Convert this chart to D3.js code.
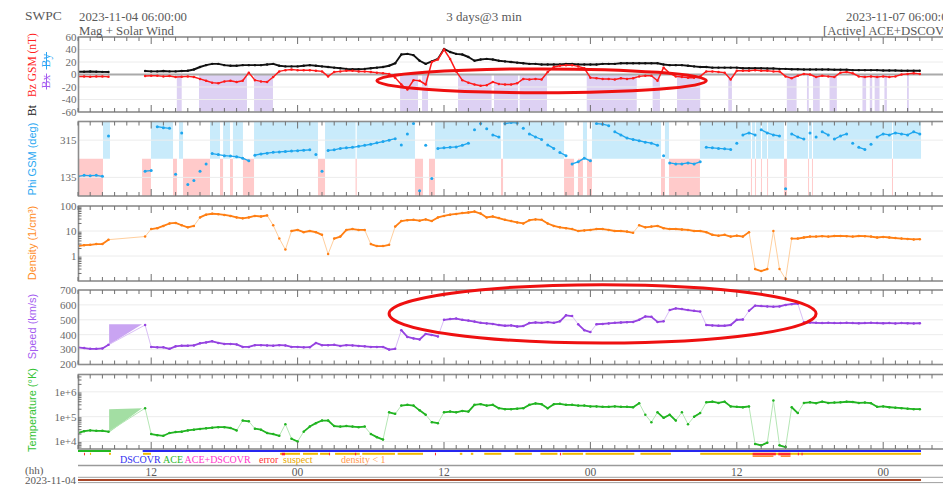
<!DOCTYPE html>
<html>
<head>
<meta charset="utf-8">
<script src="https://cdn.jsdelivr.net/npm/d3@7"></script>
<style>
  html, body { margin: 0; padding: 0; background: #fff; overflow: hidden; }
  svg { display: block; }
  text { font-family: "Liberation Serif", "Times New Roman", serif; }
  .sans { font-family: "Liberation Sans", Arial, sans-serif; }
</style>
</head>
<body>
<svg id="chart" width="943" height="487"></svg>
<script>
// ---------------------------------------------------------------
// Real-time solar wind, 3 days ending 2023-11-07 06:00 UT.
// Samples every 30 minutes from 2023-11-04 06:00 UT; null = no data.
// ---------------------------------------------------------------
const startLabel = "2023-11-04 06:00:00";
const endLabel = "2023-11-07 06:00:00";
const sampleStepHours = 0.5;

const bt = [4.5,4.5,4.8,4.5,4.2,4, null,null,null,null,null,
  5.5,5,5,5.5,5,5,5.5,6,8,12,
  15,17,17,15,14,14,15,15,15,15,
  16,17,14,13,13,13,14,15,14,13,
  12,11,10,9,8.5,8.5,9,10,11,12,
  14,18,32,33,31,22,17,21,25,41,
  36,33,32,28,22,24,25,24,22,21,
  20,19,18,17,17,16,16,16,16,17,
  17,16,16,16,16,17,17,17,18,18,
  18,18,18,18,18,16,15,15,15,14,
  13,12,12,11,11,11,11,11,10,10,
  10,10,9.5,9.5,9,9,8.5,8.5,8,8,
  8,8,8,7.5,7.5,7.5,7,7,7,7,
  7,6.5,6.5,6.5,6,6,6,6];

const bz = [-3,-3,-3.5,-3,-3,-3.5, null,null,null,null,null,
  -2.5,-2,-2,-3,-2.5,-4,-3.5,-3,-4,-7,
  -10,-13,-14,-11,-10,-12,-10,3,-9,-11,
  -12,-4,5,7,8,7,7,7,6,5,
  -3,4,5,6,6,5,5,4,3,2,
  1,-5,-16,-24,-9,-10,-16,20,24,40,
  25,5,-9,-13,-16,-18,-17,-12,-15,-16,
  -16,-14,-7,-8,-7,-8,4,12,14,15,
  15,13,10,-5,-6,-7,-7,-8,-6,-7,
  -6,-3,-2,-2,-10,11,2,-3,-4,-5,
  -5,-3,5,5,4,3,-8,6,6,6,
  7,6,6,5,5,-3,-6,-2,1,0,
  -4,-2,-3,-4,3,4,2,-3,-4,-3,
  -4,-3,-4,-3,0,1,2,1];

const phi = [140,145,143,145,140,335, null,null,null,null,null,
  165,168,380,375,372,150,350,100,120,165,
  200,250,245,240,238,235,228,215,242,248,
  252,256,258,260,262,264,266,268,245,165,
  265,268,275,278,280,285,290,295,302,308,
  315,322,292,345,395,70,290,130,275,278,
  280,282,290,300,365,395,370,340,330,395,
  400,398,372,345,330,318,292,275,255,240,
  200,210,228,215,395,392,385,355,340,325,
  318,312,305,300,290,240,205,200,200,205,
  200,210,280,278,275,273,270,300,340,350,
  340,365,350,340,335,80,345,330,320,350,
  330,355,340,320,335,345,300,280,270,295,
  330,345,340,350,345,340,355,345];

const density = [2.5,2.7,2.8,3,3,4.5, null,null,null,null,null,
  6,12,13,16,20,21,17,14,16,35,
  45,49,47,44,40,35,32,35,40,38,
  42,17,5,1.8,10,11,9,10,9,7,
  1.2,5,6,11,12,11,11,3,2.5,2.5,
  2.8,15,25,27,28,26,29,25,35,40,
  45,48,52,55,60,50,35,38,33,28,
  25,22,20,27,29,28,20,16,14,13,
  12,10,10.5,11,12,12,11,10,10,9.5,
  8.5,17,14,15,16,13,12,12,11.5,11,
  10,10,9,7,6.5,7,6,6.5,6,9,
  0.3,0.25,0.3,10,0.3,0.12,5,5,5.5,6,
  6,6.2,6,6.3,6.3,6.2,6,6.3,6.2,6,
  5.5,5.8,5.5,5.2,5,4.8,4.6,4.7];

const speed = [315,310,305,305,308,332, null,null,null,null,null,
  465,318,315,315,305,322,326,326,328,342,
  348,356,345,338,338,335,318,318,330,330,
  328,326,330,328,318,318,315,316,345,330,
  330,332,325,330,328,325,322,318,318,318,
  300,305,430,385,375,368,405,398,388,500,
  505,508,500,495,488,480,476,472,465,460,
  462,455,458,478,482,480,484,480,490,530,
  525,470,430,418,470,472,476,480,482,484,
  486,500,522,520,486,490,565,576,572,565,
  560,555,465,462,460,460,465,500,502,560,
  595,592,590,588,590,600,605,608,482,482,
  480,478,480,478,478,480,478,477,478,480,
  478,477,478,476,478,477,476,477];

const temperature = [2.2e4,2.6e4,2.8e4,2.7e4,2.7e4,2.5e4, null,null,null,null,null,
  2.2e5,2.0e4,1.8e4,1.7e4,2.2e4,2.4e4,2.5e4,2.8e4,3.0e4,3.2e4,
  3.4e4,3.6e4,3.8e4,3.8e4,3.5e4,2.8e4,7e4,6.5e4,3.3e4,3.0e4,
  2.2e4,2.0e4,1.7e4,5e4,1.3e4,1.0e4,2.5e4,4e4,5.5e4,7e4,
  7e4,4.2e4,4e4,4.2e4,4e4,3.8e4,4e4,2e4,1.5e4,1.2e4,
  1.5e5,1.3e5,2.8e5,3e5,2.8e5,1.8e5,1.2e5,6e4,5.5e4,1.5e5,
  1.6e5,1.5e5,1.7e5,1.6e5,3e5,3.2e5,2.8e5,3e5,2.2e5,2e5,
  2e5,2.1e5,2.2e5,3e5,3.4e5,3.2e5,2.2e5,3.2e5,3.3e5,3e5,
  3e5,2.8e5,2.8e5,2.6e5,2.6e5,2.5e5,2.5e5,2.6e5,2.5e5,2.5e5,
  2.4e5,3.5e5,1.2e5,6e4,1.5e5,9e4,1.2e5,7e4,1.5e5,5e4,
  1e5,1.4e5,3.8e5,4e5,3.6e5,4e5,2.6e5,2.5e5,2.4e5,2.6e5,
  8e3,7e3,9e3,4.5e5,7e3,6e3,2.4e5,1.4e5,3.6e5,3.8e5,
  3.5e5,4e5,3.6e5,3.7e5,3.8e5,4e5,3.9e5,3.6e5,3.7e5,3.5e5,
  2.5e5,2.6e5,2.4e5,2.3e5,2.2e5,2.1e5,2e5,2e5];

// envelope across the plasma data gap: [hour, low, high]
const speedGapBand = [[2.55, 332, 470], [5.25, 470, 470]];
const temperatureGapBand = [[2.55, 2.3e4, 2.0e5], [5.25, 2.2e5, 2.2e5]];

// southward Bz intervals, hours from start
const bzSouthSpans = [[8.1,8.5],[9.92,13.85],[14.43,15.98],[26.4,27.87],[28.2,28.69],
  [31.15,33.9],[34.1,36.07],[36.2,38.44],[41.7,45.8],[47.1,47.7],[49.1,51],[53.3,53.6],
  [58.1,58.9],[59.75,59.9],[60.25,60.8],[61.6,62.2],[64.3,64.6],[64.9,65.1],
  [65.3,65.7],[66.1,66.3],[67.95,68.1]];

// Phi sector intervals: away (upper half) and toward (lower half)
const phiAwaySpans = [[2.05,2.62],[5.98,7.79],[8.28,8.61],[10.82,11.64],[11.89,12.46],
  [12.7,13.52],[14.43,19.67],[20.25,22.75],[22.85,27.62],[29.26,34.67],[34.84,39.84],
  [41.39,41.72],[42.13,47.79],[48.11,48.44],[50.98,55.16],[55.25,55.5],[55.57,55.98],
  [56.07,56.48],[56.56,57.87],[58.11,59.84],[59.92,60.16],[60.25,66.72],[66.8,69.1]];
const phiTowardSpans = [[0,2.05],[5.25,5.98],[7.79,8.11],[8.61,10.82],[11.64,11.89],
  [12.46,12.7],[13.52,14.43],[19.67,20.25],[22.75,22.85],[27.62,28.28],[28.77,29.26],
  [34.67,34.84],[39.84,40.66],[40.98,41.39],[41.72,42.13],[47.79,48.11],[48.44,50.98],
  [55.16,55.24],[55.49,55.57],[55.98,56.06],[56.48,56.56],[57.87,58.11],[59.84,59.92],
  [60.16,60.24],[66.72,66.8]];

// data-source and quality flags, hours from start
const aceSpans = [[0, 2.7]];
const dscovrSpans = [[5.3, 69.1]];
const suspectSpans = [[0.98,1.07],[2.54,2.7],[5.33,5.98],[16.56,18.2],[18.44,19.67],
  [19.84,20.66],[21.07,23.1],[23.3,25.98],[26.2,28.28],[31.3,31.5],[32.2,32.4],
  [33.3,34.7],[35.8,37.2],[37.9,39.3],[39.7,41.4],[41.6,45.6],[46.1,48.6],[51,69.1]];
const errorSpans = [[0.49,0.57],[16.7,16.97],[20.57,20.66],[22.7,22.8],[29.26,29.34],
  [39.5,39.6],[55.3,57.2],[57.4,58.4],[59,59.1],[59.3,59.4]];
const lowDensitySpans = [[55.3,57.0],[57.6,58.4]];
const dataEndHour = 69.1;

// tick values per panel
const bTicks = [60, 40, 20, 0, -20, -40, -60];
const phiTicks = [315, 135];
const densityTicks = [100, 10, 1];
const speedTicks = [700, 600, 500, 400, 300, 200];
const temperatureTicks = [1e6, 1e5, 1e4];

// circled regions of interest: centre (hour, value) and half extents
const highlightMarks = [
  { panel: "mag", hour: 38, value: -10, halfHours: 13.5, halfValue: 19 },
  { panel: "speed", hour: 43, value: 540, halfHours: 17.5, halfValue: 196 }
];

// ---------------------------------------------------------------
const svg = d3.select("#chart");
const HOUR = 3600e3;
const t0 = new Date(Date.UTC(2023, 10, 4, 6));
const t1 = new Date(Date.UTC(2023, 10, 7, 6));
const at = h => new Date(t0.getTime() + h * HOUR);
const x = d3.scaleUtc().domain([t0, t1]).range([78, 956.4]);
const X0 = x(t0), X1 = x(t1);

const rows = bt.map((_, i) => ({
  t: at(i * sampleStepHours),
  bt: bt[i], bz: bz[i], phi: phi[i], n: density[i], v: speed[i], temp: temperature[i]
}));

const boxes = {
  mag:   [37, 112],
  phi:   [121.5, 196],
  dens:  [206, 281],
  speed: [290, 364.5],
  temp:  [374.5, 449]
};
const yB = d3.scaleLinear().domain([-60, 60]).range([boxes.mag[1], boxes.mag[0]]);
const yP = d3.scaleLinear().domain([45, 405]).range([boxes.phi[1], boxes.phi[0]]);
const yN = d3.scaleLog().domain([0.1, 100]).range([boxes.dens[1], boxes.dens[0]]);
const yV = d3.scaleLinear().domain([200, 700]).range([boxes.speed[1], boxes.speed[0]]);
const yT = d3.scaleLog().domain([5e3, 5e6]).range([boxes.temp[1], boxes.temp[0]]);

const defs = svg.append("defs");
Object.entries(boxes).forEach(([k, b]) => {
  defs.append("clipPath").attr("id", "clip-" + k)
    .append("rect").attr("x", X0).attr("y", b[0]).attr("width", X1 - X0).attr("height", b[1] - b[0]);
});
const layer = k => svg.append("g").attr("clip-path", `url(#clip-${k})`);

function spans(g, list, y0, y1, color) {
  g.selectAll(null).data(list).join("rect")
    .attr("x", d => x(at(d[0])))
    .attr("width", d => Math.max(1, x(at(d[1])) - x(at(d[0]))))
    .attr("y", Math.min(y0, y1)).attr("height", Math.abs(y1 - y0))
    .attr("fill", color);
}
function grid(g, ticks, y) {
  g.selectAll(null).data(ticks).join("line")
    .attr("x1", X0).attr("x2", X1).attr("y1", d => y(d)).attr("y2", d => y(d))
    .attr("stroke", "#ececec").attr("stroke-width", 1);
}
function dots(g, key, y, color, r) {
  g.selectAll(null).data(rows.filter(d => d[key] != null)).join("circle")
    .attr("cx", d => x(d.t)).attr("cy", d => y(d[key])).attr("r", r).attr("fill", color);
}
function solidTrace(g, key, y, color, width) {
  g.append("path").datum(rows)
    .attr("d", d3.line().defined(d => d[key] != null).x(d => x(d.t)).y(d => y(d[key])))
    .attr("fill", "none").attr("stroke", color).attr("stroke-width", width)
    .attr("stroke-linejoin", "round");
}
// short strokes between neighbouring samples whose step stays small
function steadySegments(g, key, y, color, width, maxStep) {
  const segs = [];
  for (let i = 1; i < rows.length; i++) {
    const a = rows[i - 1], b = rows[i];
    if (a[key] == null || b[key] == null) continue;
    if (Math.abs(y(a[key]) - y(b[key])) <= maxStep) segs.push([a, b]);
  }
  g.selectAll(null).data(segs).join("line")
    .attr("x1", d => x(d[0].t)).attr("y1", d => y(d[0][key]))
    .attr("x2", d => x(d[1].t)).attr("y2", d => y(d[1][key]))
    .attr("stroke", color).attr("stroke-width", width).attr("stroke-linecap", "round");
}
// plasma traces: faint connector through every sample, solid strokes for small steps
function plasmaTrace(g, key, y, dark, light, maxStep) {
  const valid = rows.filter(d => d[key] != null);
  g.append("path").datum(valid)
    .attr("d", d3.line().x(d => x(d.t)).y(d => y(d[key])))
    .attr("fill", "none").attr("stroke", light).attr("stroke-width", 1);
  steadySegments(g, key, y, dark, 1.8, maxStep);
  dots(g, key, y, dark, 1.25);
}
function gapBand(g, band, y, fill) {
  g.append("path").datum(band)
    .attr("d", d3.area().x(d => x(at(d[0]))).y0(d => y(d[1])).y1(d => y(d[2])))
    .attr("fill", fill);
}

// ---- magnetic field panel ----
{
  const g = layer("mag");
  spans(g, bzSouthSpans, yB(0), yB(-60), "#ddd1f3");
  grid(g, bTicks.filter(v => v !== 0), yB);
  g.append("line").attr("x1", X0).attr("x2", X1).attr("y1", yB(0)).attr("y2", yB(0))
    .attr("stroke", "#aaaaaa").attr("stroke-width", 2);
  solidTrace(g, "bt", yB, "#111", 1.9);
  dots(g, "bt", yB, "#111", 1.2);
  solidTrace(g, "bz", yB, "#ff1a1a", 1.5);
  dots(g, "bz", yB, "#ff1a1a", 1.25);
}
// ---- phi panel ----
{
  const g = layer("phi");
  spans(g, phiAwaySpans, yP(405), yP(225), "#c9ebfb");
  spans(g, phiTowardSpans, yP(225), yP(45), "#ffcaca");
  grid(g, phiTicks, yP);
  steadySegments(g, "phi", yP, "#1ea6ee", 1.3, 4);
  dots(g, "phi", yP, "#1ea6ee", 1.5);
}
// ---- density panel ----
{
  const g = layer("dens");
  grid(g, densityTicks, yN);
  plasmaTrace(g, "n", yN, "#ff7f14", "#ffcf9e", 7);
}
// ---- speed panel ----
{
  const g = layer("speed");
  grid(g, speedTicks, yV);
  gapBand(g, speedGapBand, yV, "#c9a4f2");
  plasmaTrace(g, "v", yV, "#9543e0", "#d9bff5", 7);
}
// ---- temperature panel ----
{
  const g = layer("temp");
  grid(g, temperatureTicks, yT);
  gapBand(g, temperatureGapBand, yT, "#a3dea3");
  plasmaTrace(g, "temp", yT, "#22b422", "#b5e6b5", 7);
}

// ---- frames, time ticks and value labels ----
const hours = d3.utcHour.range(t0, d3.utcHour.offset(t1, 1));
const isMajor = d => d.getUTCHours() % 12 === 0;
const panelAxes = [
  { box: boxes.mag, y: yB, ticks: bTicks, fmt: d => d },
  { box: boxes.phi, y: yP, ticks: phiTicks, fmt: d => d },
  { box: boxes.dens, y: yN, ticks: densityTicks, fmt: d => d, log: true },
  { box: boxes.speed, y: yV, ticks: speedTicks, fmt: d => d },
  { box: boxes.temp, y: yT, ticks: temperatureTicks, fmt: d => "1e+" + Math.round(Math.log10(d)), log: true }
];
const axisG = svg.append("g");
panelAxes.forEach(p => {
  const [top, bot] = p.box;
  axisG.append("rect").attr("x", X0 + 0.5).attr("y", top).attr("width", X1 - X0).attr("height", bot - top)
    .attr("fill", "none").attr("stroke", "#8d8d8d").attr("stroke-width", 1.6);
  axisG.selectAll(null).data(hours).join("line")
    .attr("x1", d => x(d)).attr("x2", d => x(d))
    .attr("y1", top).attr("y2", d => top + (isMajor(d) ? 7 : 4))
    .attr("stroke", "#707070").attr("stroke-width", 1);
  axisG.selectAll(null).data(hours).join("line")
    .attr("x1", d => x(d)).attr("x2", d => x(d))
    .attr("y1", bot).attr("y2", d => bot - (isMajor(d) ? 7 : 4))
    .attr("stroke", "#707070").attr("stroke-width", 1);
  axisG.selectAll(null).data(p.ticks).join("text")
    .attr("x", 76.5).attr("y", d => p.y(d)).attr("dy", "0.35em")
    .attr("text-anchor", "end").attr("font-size", 11).attr("fill", "#6a6a6a")
    .text(p.fmt);
  if (p.log) {
    const [lo, hi] = p.y.domain();
    const minor = [];
    for (let e = Math.floor(Math.log10(lo)); e <= Math.ceil(Math.log10(hi)); e++) {
      for (let m = 2; m <= 9; m++) {
        const v = m * Math.pow(10, e);
        if (v > lo && v < hi) minor.push(v);
      }
    }
    axisG.selectAll(null).data(minor).join("line")
      .attr("x1", X0).attr("x2", X0 + 3.5).attr("y1", d => p.y(d)).attr("y2", d => p.y(d))
      .attr("stroke", "#707070").attr("stroke-width", 1);
  }
});

// ---- axis titles ----
function vtitle(cx, cy, parts, size, cls) {
  const t = svg.append("text").attr("transform", `translate(${cx},${cy}) rotate(-90)`)
    .attr("text-anchor", "middle").attr("font-size", size);
  if (cls) t.attr("class", cls);
  parts.forEach(([s, c]) => t.append("tspan").attr("fill", c).text(s));
  return t;
}
vtitle(36, 65, [["Bz GSM (nT)", "#ff2020"]], 11.5);
vtitle(36, 110.5, [["Bt", "#111"]], 11.5);
vtitle(50, 60.5, [["By", "#2aa5f5"]], 11.5);
vtitle(50, 81.5, [["Bx", "#a35cf0"]], 11.5);
// struck-through legend entries (hidden components)
svg.append("line").attr("x1", 46.5).attr("x2", 46.5).attr("y1", 52).attr("y2", 69.5)
  .attr("stroke", "#2aa5f5").attr("stroke-width", 1);
svg.append("line").attr("x1", 46.5).attr("x2", 46.5).attr("y1", 73.5).attr("y2", 89.5)
  .attr("stroke", "#a35cf0").attr("stroke-width", 1);
vtitle(36, 159, [["Phi GSM (deg)", "#2aa8f2"]], 11, "sans");
vtitle(36, 243, [["Density (1/cm³)", "#ff8c1f"]], 11, "sans");
vtitle(36, 326.5, [["Speed (km/s)", "#a45cf0"]], 11, "sans");
vtitle(36, 410, [["Temperature (°K)", "#33c233"]], 11, "sans");

// ---- header ----
const hdr = (tx, ty, s, size, anchor) => svg.append("text").attr("x", tx).attr("y", ty)
  .attr("font-size", size).attr("fill", "#5a5a5a").attr("text-anchor", anchor || "start").text(s);
hdr(25, 19.5, "SWPC", 13.5);
hdr(79, 21, startLabel, 12.8);
hdr(79, 34.5, "Mag + Solar Wind", 12.8);
hdr(484, 21, "3 days@3 min", 13, "middle");
hdr(846, 21, endLabel, 12.8);
hdr(823, 34.5, "[Active] ACE+DSCOVR", 12.8);

// ---- source / quality strip ----
const strip = svg.append("g");
spans(strip, aceSpans, 450, 452, "#22b822");
spans(strip, dscovrSpans, 450, 452, "#2626f0");
spans(strip, suspectSpans, 452.8, 454.8, "#f0b800");
spans(strip, errorSpans, 452.8, 455.3, "#ff2b2b");
spans(strip, lowDensitySpans, 455.3, 457, "#ff8a3a");

const legend = [
  ["DSCOVR", "#3030f0", 120], ["ACE", "#2eb82e", 163], ["ACE+DSCOVR", "#ff33cc", 184.5],
  ["error", "#ff3030", 259], ["suspect", "#e8a800", 283], ["density < 1", "#ff9a50", 341]
];
svg.selectAll(null).data(legend).join("text")
  .attr("x", d => d[2]).attr("y", 462.5).attr("font-size", 10)
  .attr("fill", d => d[1]).text(d => d[0]);

// ---- time axis ----
svg.append("line").attr("x1", X0).attr("x2", X1).attr("y1", 465.5).attr("y2", 465.5)
  .attr("stroke", "#9a9a9a").attr("stroke-width", 1.5);
svg.selectAll(null).data(hours.filter(d => isMajor(d) && d > t0 && d < t1)).join("text")
  .attr("x", d => x(d)).attr("y", 476).attr("text-anchor", "middle")
  .attr("font-size", 11.5).attr("fill", "#5a5a5a").text(d3.utcFormat("%H"));
hdr(25, 473.5, "(hh)", 11);
hdr(25, 484, "2023-11-04", 11);
hdr(33, 495, "06:00:00", 11);

// data coverage bar
svg.append("line").attr("x1", X0).attr("x2", X1).attr("y1", 477.3).attr("y2", 477.3)
  .attr("stroke", "#a0a0a0").attr("stroke-width", 1);
svg.append("line").attr("x1", X0).attr("x2", x(at(dataEndHour))).attr("y1", 480).attr("y2", 480)
  .attr("stroke", "#a8482a").attr("stroke-width", 2);
svg.append("line").attr("x1", X0).attr("x2", X1).attr("y1", 482.6).attr("y2", 482.6)
  .attr("stroke", "#a0a0a0").attr("stroke-width", 1);

// ---- highlight rings ----
const panelScale = { mag: yB, speed: yV };
svg.selectAll(null).data(highlightMarks).join("ellipse")
  .attr("cx", d => x(at(d.hour)))
  .attr("cy", d => panelScale[d.panel](d.value))
  .attr("rx", d => x(at(d.hour + d.halfHours)) - x(at(d.hour)))
  .attr("ry", d => Math.abs(panelScale[d.panel](d.value - d.halfValue) - panelScale[d.panel](d.value)))
  .attr("fill", "none").attr("stroke", "#ee1010").attr("stroke-width", 3);
</script>
</body>
</html>
